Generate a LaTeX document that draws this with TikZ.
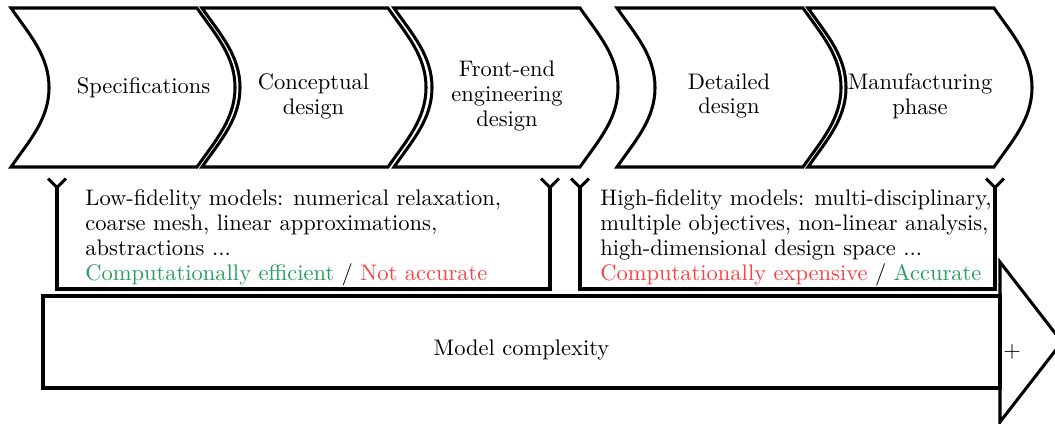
\documentclass[tikz,border=0pt]{standalone}
\usetikzlibrary{arrows.meta}
\definecolor{goodgreen}{RGB}{38,160,90}
\definecolor{badred}{RGB}{255,64,64}
\begin{document}
\begin{tikzpicture}[x=0.4444pt,y=-0.4444pt,
  outline/.style={line width=1.35pt, line join=miter},
  stagetext/.style={align=center, inner sep=0pt, font=\fontsize{10}{11.1}\selectfont},
  notetext/.style={align=left, inner sep=0pt, anchor=north west, font=\fontsize{10}{11.1}\selectfont},
  forkline/.style={line width=1.35pt, {Straight Barb[reversed,length=4pt,width=8pt]}-{Straight Barb[reversed,length=4pt,width=8pt]}},
]
\useasboundingbox (0,0) rectangle (1055,423);
% chevrons
\foreach \xo in {11,202,394,617,808}{
  \draw[outline] (\xo,8) -- ++(186,0)
    .. controls ++(18,26) and ++(0,-32) .. ++(38,79.5)
    .. controls ++(0,32) and ++(18,-26) .. ++(-38,79.5)
    -- ++(-186,0)
    .. controls ++(18,-26) and ++(0,32) .. ++(38,-79.5)
    .. controls ++(0,-32) and ++(18,26) .. cycle;
}
\node[stagetext] (spec) at (143.5,88) {Specifications};
\node[stagetext] (concept) at (313.5,96) {Conceptual\\design};
\node[stagetext] (feed) at (507,96) {Front-end\\engineering\\design};
\node[stagetext] (detail) at (729,96) {Detailed\\design};
\node[stagetext] (manuf) at (920,96) {Manufacturing\\phase};
% brackets
\coordinate (la) at (57,177);
\coordinate (lb) at (57,289);
\coordinate (lc) at (550,289);
\coordinate (ld) at (550,177);
\draw[forkline] (la) -- (lb) -- (lc) -- (ld);
\coordinate (ra) at (580,177);
\coordinate (rb) at (580,289);
\coordinate (rc) at (995,289);
\coordinate (rd) at (995,177);
\draw[forkline] (ra) -- (rb) -- (rc) -- (rd);
\node[notetext] (low) at (85,189.5) {Low-fidelity models: numerical relaxation,\\coarse mesh, linear approximations,\\abstractions ...\\\textcolor{goodgreen}{Computationally efficient} / \textcolor{badred}{Not accurate}};
\node[notetext] (high) at (600,189.5) {High-fidelity models: multi-disciplinary,\\multiple objectives, non-linear analysis,\\high-dimensional design space ...\\\textcolor{badred}{Computationally expensive} / \textcolor{goodgreen}{Accurate}};
% big arrow
\draw[outline] (43,296) rectangle (1000,388);
\draw[outline] (1000,262) -- (1062,342) -- (1000,422) -- cycle;
\node[stagetext] (mc) at (521.5,350) {Model complexity};
\node[stagetext] (plus) at (1012,352) {+};
\end{tikzpicture}
\end{document}
